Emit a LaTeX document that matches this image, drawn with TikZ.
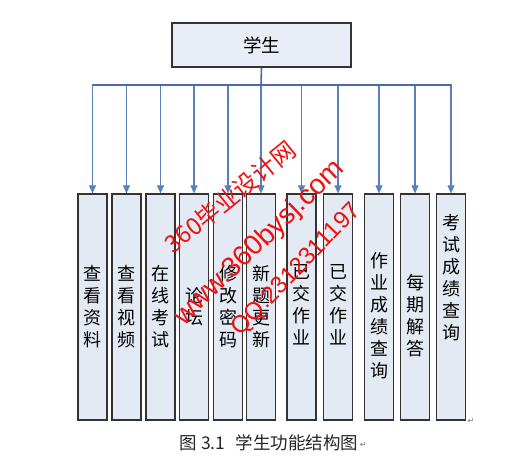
\documentclass[tikz,border=0pt]{standalone}
\usepackage{fontspec}
\usetikzlibrary{arrows.meta}
\newfontfamily\cjk{Noto Sans CJK SC}
\newfontfamily\wmfont{Liberation Sans}
\newfontfamily\symfont{DejaVu Sans}
\definecolor{boxfill}{HTML}{E4EAF4}
\definecolor{topfill}{HTML}{E8EDF7}
\definecolor{boxline}{HTML}{333333}
\definecolor{arrowblue}{HTML}{5B80B8}
\definecolor{busblue}{HTML}{4A6C9E}
\definecolor{wmred}{HTML}{F01010}
\tikzset{
  topbox/.style={draw=boxline, line width=1.2pt, fill=topfill, minimum width=179pt, minimum height=44pt, inner sep=0pt},
  colbox/.style={draw=boxline, line width=1.2pt, fill=boxfill, minimum width=29pt, minimum height=226pt, inner sep=0pt},
  coltext/.style={font=\cjk\fontsize{18}{22}\selectfont, align=center, inner sep=0pt, text=black},
  feed/.style={draw=arrowblue, line width=1.1pt, -{Triangle[width=7pt,length=8pt]}},
  bus/.style={draw=busblue, line width=1.6pt},
  wm/.style={text=wmred, inner sep=0pt},
  parmark/.style={font=\symfont\fontsize{8}{8}\selectfont, text=black!55, inner sep=0pt}
}
\begin{document}
\begin{tikzpicture}[x=1pt,y=-1pt]
\useasboundingbox (0,0) rectangle (522,468);
\fill[white] (0,0) rectangle (522,468);
% top node
\node[topbox] (top) at (261.5,45) {\cjk\fontsize{18.5}{22}\selectfont 学生};
\coordinate (bus) at (261,85);
\coordinate (busL) at (92.5,85);
\coordinate (busR) at (451,85);
% column boxes
\node[colbox] (b1) at (92.5,307) {};
\node[colbox] (b2) at (126.5,307) {};
\node[colbox] (b3) at (160.5,307) {};
\node[colbox] (b4) at (194,307) {};
\node[colbox] (b5) at (228,307) {};
\node[colbox] (b6) at (261,307) {};
\node[colbox] (b7) at (301.5,307) {};
\node[colbox] (b8) at (338,307) {};
\node[colbox] (b9) at (379,307) {};
\node[colbox] (b10) at (415,307) {};
\node[colbox] (b11) at (451,307) {};
% connectors
\draw[bus] (top.south) -- (bus);
\foreach \b in {b1,b2,b3,b4,b5,b6,b7,b8,b9,b10,b11}{
  \draw[feed] (bus) -| (\b.north);
}
\draw[bus] (busL) -- (busR);
% column texts
\node[coltext] (t1) at (92.5,307) {查\\看\\资\\料};
\node[coltext] (t2) at (126.5,307) {查\\看\\视\\频};
\node[coltext] (t3) at (160.5,307) {在\\线\\考\\试};
\node[coltext] (t4) at (194,307) {论\\坛};
\node[coltext] (t5) at (228,307) {修\\改\\密\\码};
\node[coltext] (t6) at (261,307) {新\\题\\更\\新};
\node[coltext] (t7) at (301.5,305) {已\\交\\作\\业};
\node[coltext] (t8) at (338,305) {已\\交\\作\\业};
\node[coltext] (t9) at (379,316) {作\\业\\成\\绩\\查\\询};
\node[coltext] (t10) at (415,316) {每\\期\\解\\答};
\node[coltext] (t11) at (451,278) {考\\试\\成\\绩\\查\\询};
% paragraph marks
\node[parmark] (m1) at (471,421) {↵};
% caption
\node[inner sep=0pt, text=black!85] (cap) at (269,443) {\cjk\fontsize{17.5}{20}\selectfont 图 3.1\hspace{0.6em}学生功能结构图};
\node[parmark, anchor=west] (m2) at ([xshift=1pt,yshift=-2pt]cap.east) {↵};
% watermark
\node[wm, rotate=39] (w1) at (230,197) {\cjk\fontsize{24}{24}\selectfont 360毕业设计网};
\node[wm, rotate=44] (w2) at (260,243) {\wmfont\fontsize{28}{28}\selectfont www.360bysj.com};
\node[wm, rotate=46] (w3) at (297,270) {\wmfont\fontsize{24}{24}\selectfont QQ:2312311197};
\end{tikzpicture}
\end{document}
